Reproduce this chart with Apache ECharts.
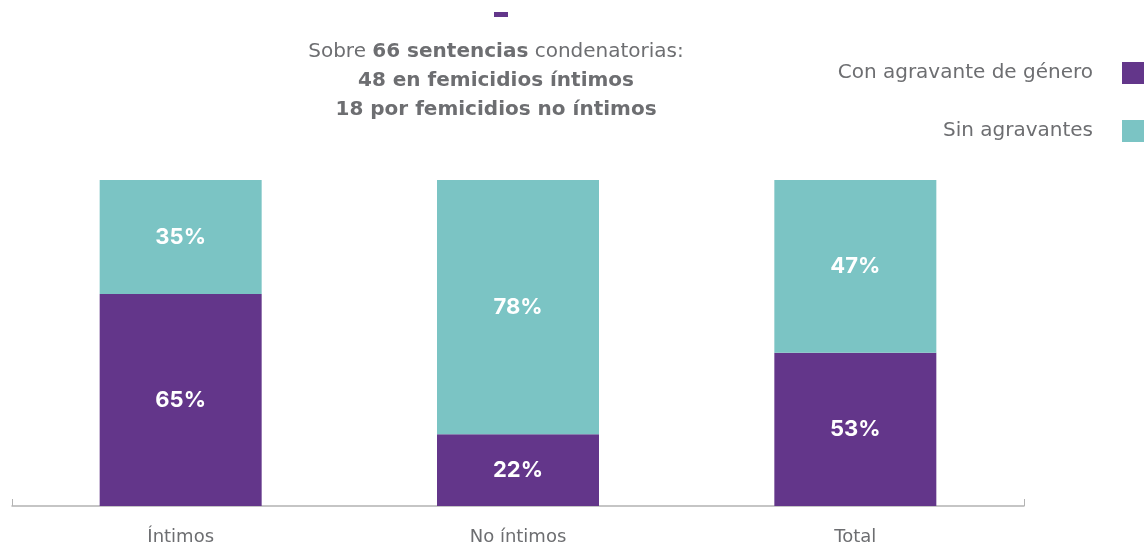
<!DOCTYPE html>
<html>
<head>
<meta charset="utf-8">
<script src="https://cdn.jsdelivr.net/npm/echarts@6/dist/echarts.min.js"></script>
<style>
  html, body { margin: 0; padding: 0; background: #fff; }
  #chart { width: 1144px; height: 546px; }
</style>
</head>
<body>
<div id="chart"></div>
<script>
// datos del gráfico
const categories = ['Íntimos', 'No íntimos', 'Total'];
const seriesNames = ['Con agravante de género', 'Sin agravantes'];
const conAgravante = [65, 22, 47];
const sinAgravante = [35, 78, 53];
const conLabels = ['65%', '22%', '53%'];
const sinLabels = ['35%', '78%', '47%'];

const gray = '#6d6e71';
const purple = '#63368a';
const teal = '#7bc4c4';
const font = 'DejaVu Sans';

let chart = echarts.init(document.getElementById('chart'), null, { renderer: 'canvas' });

let option = {
  animation: false,
  color: [purple, teal],
  title: {
    left: 491,
    top: 32,
    textAlign: 'center',
    text: '{n|Sobre }{b|66 sentencias}{n| condenatorias:}\n{b|48 en femicidios íntimos}\n{b|18 por femicidios no íntimos}',
    textStyle: {
      rich: {
        n: { fontFamily: font, fontSize: 20, fontWeight: 'normal', color: gray, lineHeight: 29 },
        b: { fontFamily: font, fontSize: 20, fontWeight: 'bold', color: gray, lineHeight: 29 }
      }
    }
  },
  graphic: [
    { type: 'rect', left: 494, top: 12, shape: { width: 14, height: 5 }, style: { fill: purple } }
  ],
  legend: {
    orient: 'vertical',
    right: -5,
    top: 57,
    align: 'right',
    itemWidth: 22,
    itemHeight: 22,
    itemGap: 36,
    icon: 'rect',
    data: seriesNames,
    textStyle: { fontFamily: font, fontSize: 20, color: gray, padding: [0, 24, 0, 0] }
  },
  grid: { left: 12, right: 120, top: 180, bottom: 38 },
  xAxis: {
    type: 'category',
    data: categories,
    axisLine: { lineStyle: { color: '#b3b3b3', width: 1.5 } },
    axisTick: { show: true, inside: true, length: 7, lineStyle: { color: '#b3b3b3' }, interval: function (i) { return i === 0; } },
    axisLabel: { fontFamily: font, fontSize: 18, color: gray, margin: 22 }
  },
  yAxis: {
    type: 'value',
    min: 0,
    max: 100,
    show: false
  },
  series: [
    {
      name: seriesNames[0],
      type: 'bar',
      stack: 'total',
      barWidth: 162,
      data: conAgravante,
      label: {
        show: true,
        position: 'inside',
        formatter: function (p) { return conLabels[p.dataIndex]; },
        fontFamily: 'Inter',
        fontWeight: 'bold',
        fontSize: 22,
        color: '#fff'
      }
    },
    {
      name: seriesNames[1],
      type: 'bar',
      stack: 'total',
      barWidth: 162,
      data: sinAgravante,
      label: {
        show: true,
        position: 'inside',
        formatter: function (p) { return sinLabels[p.dataIndex]; },
        fontFamily: 'Inter',
        fontWeight: 'bold',
        fontSize: 22,
        color: '#fff'
      }
    }
  ]
};

option && chart.setOption(option);
</script>
</body>
</html>
